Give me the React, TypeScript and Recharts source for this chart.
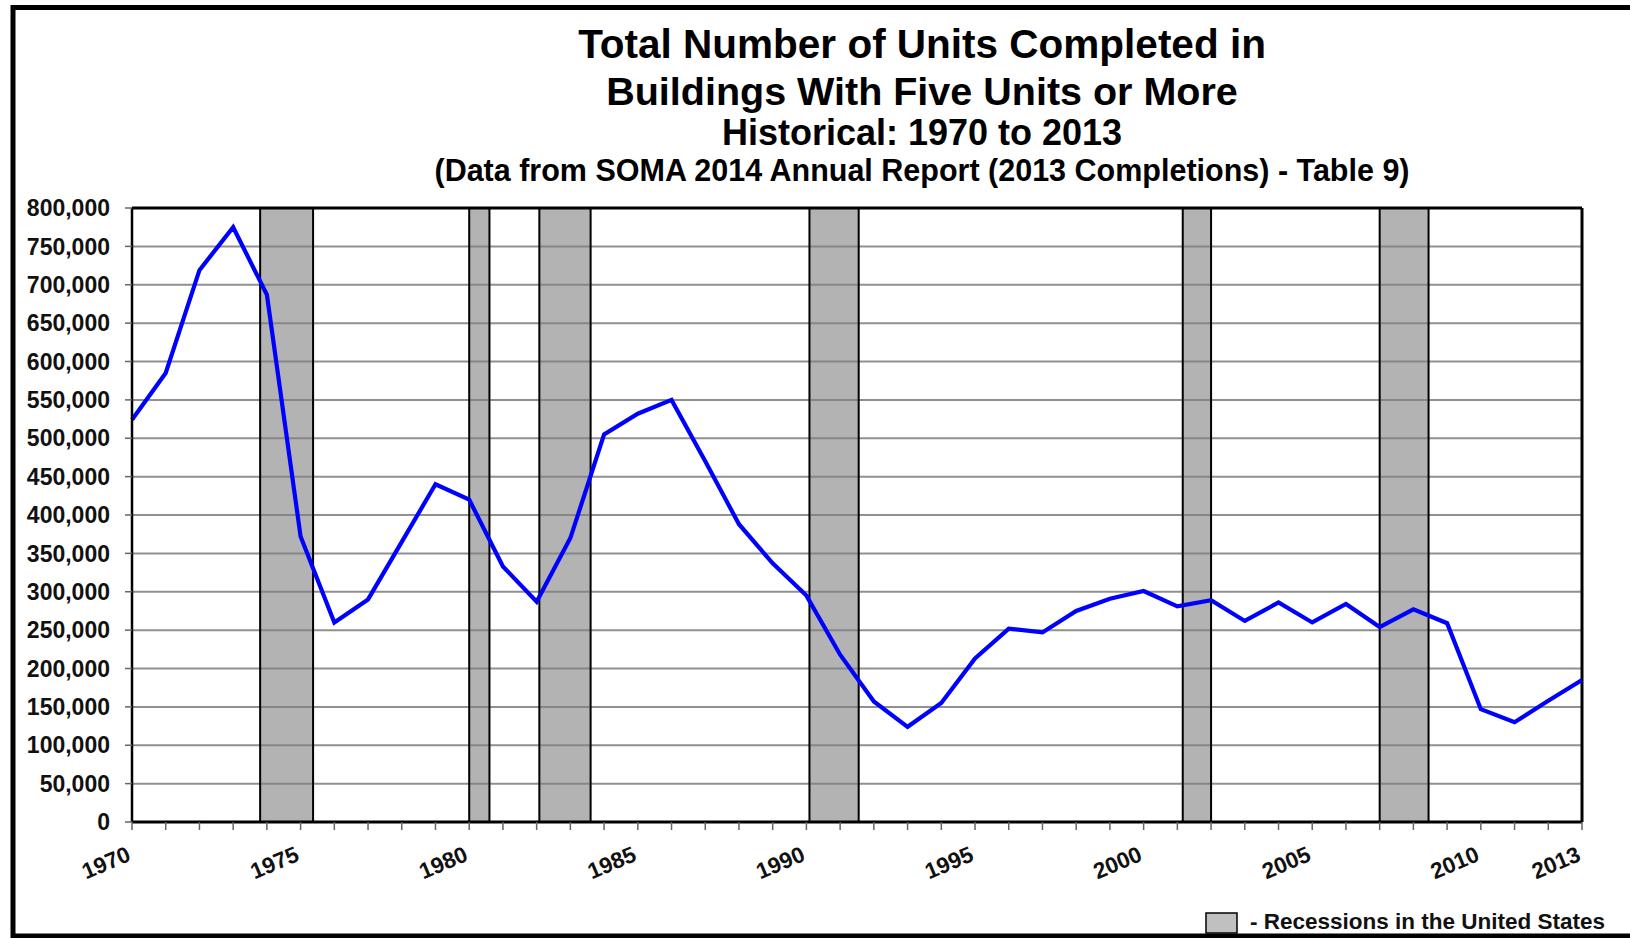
import * as React from "react"
import { CartesianGrid, ComposedChart, Line, ReferenceArea, ReferenceLine, XAxis, YAxis } from "recharts"

// Completions per year
const years = [
  1970, 1971, 1972, 1973, 1974, 1975, 1976, 1977, 1978, 1979,
  1980, 1981, 1982, 1983, 1984, 1985, 1986, 1987, 1988, 1989,
  1990, 1991, 1992, 1993, 1994, 1995, 1996, 1997, 1998, 1999,
  2000, 2001, 2002, 2003, 2004, 2005, 2006, 2007, 2008, 2009,
  2010, 2011, 2012, 2013,
]
const units = [
  524000, 585000, 719000, 775000, 687000, 372000, 260000, 290000, 365000, 440000,
  420000, 333000, 287000, 370000, 505000, 532000, 550000, 470000, 388000, 337000,
  295000, 218000, 157000, 124000, 155000, 213000, 252000, 247000, 275000, 291000,
  301000, 281000, 289000, 262000, 286000, 260000, 284000, 254000, 277000, 259000,
  147000, 130000, 158000, 185000,
]
const labelYears = [1970, 1975, 1980, 1985, 1990, 1995, 2000, 2005, 2010, 2013]
const yTicks = [
  0, 50000, 100000, 150000, 200000, 250000, 300000, 350000, 400000,
  450000, 500000, 550000, 600000, 650000, 700000, 750000, 800000,
]
// recession periods (fractional years)
const recessionStart = [1973.8, 1980.0, 1982.08, 1990.09, 2001.16, 2007.0]
const recessionEnd = [1975.37, 1980.6, 1983.6, 1991.55, 2002.0, 2008.45]

const titleLines = [
  "Total Number of Units Completed in",
  "Buildings With Five Units or More",
  "Historical: 1970 to 2013",
  "(Data from SOMA 2014 Annual Report (2013 Completions) - Table 9)",
]
const legendLabel = "- Recessions in the United States"

const data = years.map((year, i) => ({ year, units: units[i] }))
const font = "'Liberation Sans', Arial, sans-serif"

const XTick = (props: any) => {
  const { x, y, payload } = props
  if (!labelYears.includes(payload.value)) return <g />
  return (
    <g transform={`translate(${x},${y + 28}) rotate(-23)`}>
      <text x={0} y={0} textAnchor="end" fontSize={22.5} fontWeight="bold" fontFamily={font} fill="#111">
        {payload.value}
      </text>
    </g>
  )
}

export default function App() {
  return (
    <div style={{ position: "absolute", left: 0, top: 0, width: 1630, height: 938, overflow: "hidden", background: "#fff" }}>
      <div style={{ position: "absolute", left: 0, top: 0 }}>
        <ComposedChart width={1630} height={938} data={data} margin={{ top: 208, right: 48, left: 0, bottom: 0 }}>
          <CartesianGrid vertical={false} stroke="#909090" strokeWidth={2} />
          {recessionStart.map((s, i) => (
            <ReferenceArea
              key={s}
              x1={s}
              x2={recessionEnd[i]}
              y1={0}
              y2={800000}
              fill="#808080"
              fillOpacity={0.6}
              stroke="#000"
              strokeWidth={2}
            />
          ))}
          <XAxis
            dataKey="year"
            type="number"
            domain={[1970, 2013]}
            ticks={years}
            interval={0}
            height={116}
            tick={<XTick />}
            tickSize={8}
            tickLine={{ stroke: "#666", strokeWidth: 1.5 }}
            axisLine={{ stroke: "#000", strokeWidth: 3 }}
          />
          <YAxis
            type="number"
            domain={[0, 800000]}
            ticks={yTicks}
            interval={0}
            width={132}
            tickSize={7}
            tickMargin={15}
            tickFormatter={(v) => v.toLocaleString("en-US")}
            tick={{ fontSize: 23, fontWeight: "bold", fontFamily: font, fill: "#111" }}
            tickLine={{ stroke: "#666", strokeWidth: 1.5 }}
            axisLine={{ stroke: "#000", strokeWidth: 2.5 }}
          />
          <ReferenceLine y={800000} stroke="#000" strokeWidth={3} />
          <ReferenceLine x={2013} stroke="#000" strokeWidth={3} />
          <Line
            dataKey="units"
            type="linear"
            stroke="#0000ff"
            strokeWidth={4.2}
            dot={false}
            isAnimationActive={false}
          />
        </ComposedChart>
      </div>
      <svg width={1630} height={938} style={{ position: "absolute", left: 0, top: 0, pointerEvents: "none" }}>
        <rect x={13} y={7.5} width={1700} height={928.5} fill="none" stroke="#000" strokeWidth={5} />
        <g fontFamily={font} fontWeight="bold" fill="#000" textAnchor="middle">
          <text x={922} y={58} fontSize={40.5}>{titleLines[0]}</text>
          <text x={922} y={105} fontSize={39.5}>{titleLines[1]}</text>
          <text x={922} y={145} fontSize={36}>{titleLines[2]}</text>
          <text x={922} y={181} fontSize={30.5}>{titleLines[3]}</text>
        </g>
        <rect x={1206} y={913} width={31} height={20} fill="#c0c0c0" stroke="#000" strokeWidth={1.5} />
        <text x={1250} y={929} fontSize={22.5} fontWeight="bold" fontFamily={font} fill="#111">{legendLabel}</text>
      </svg>
    </div>
  )
}
